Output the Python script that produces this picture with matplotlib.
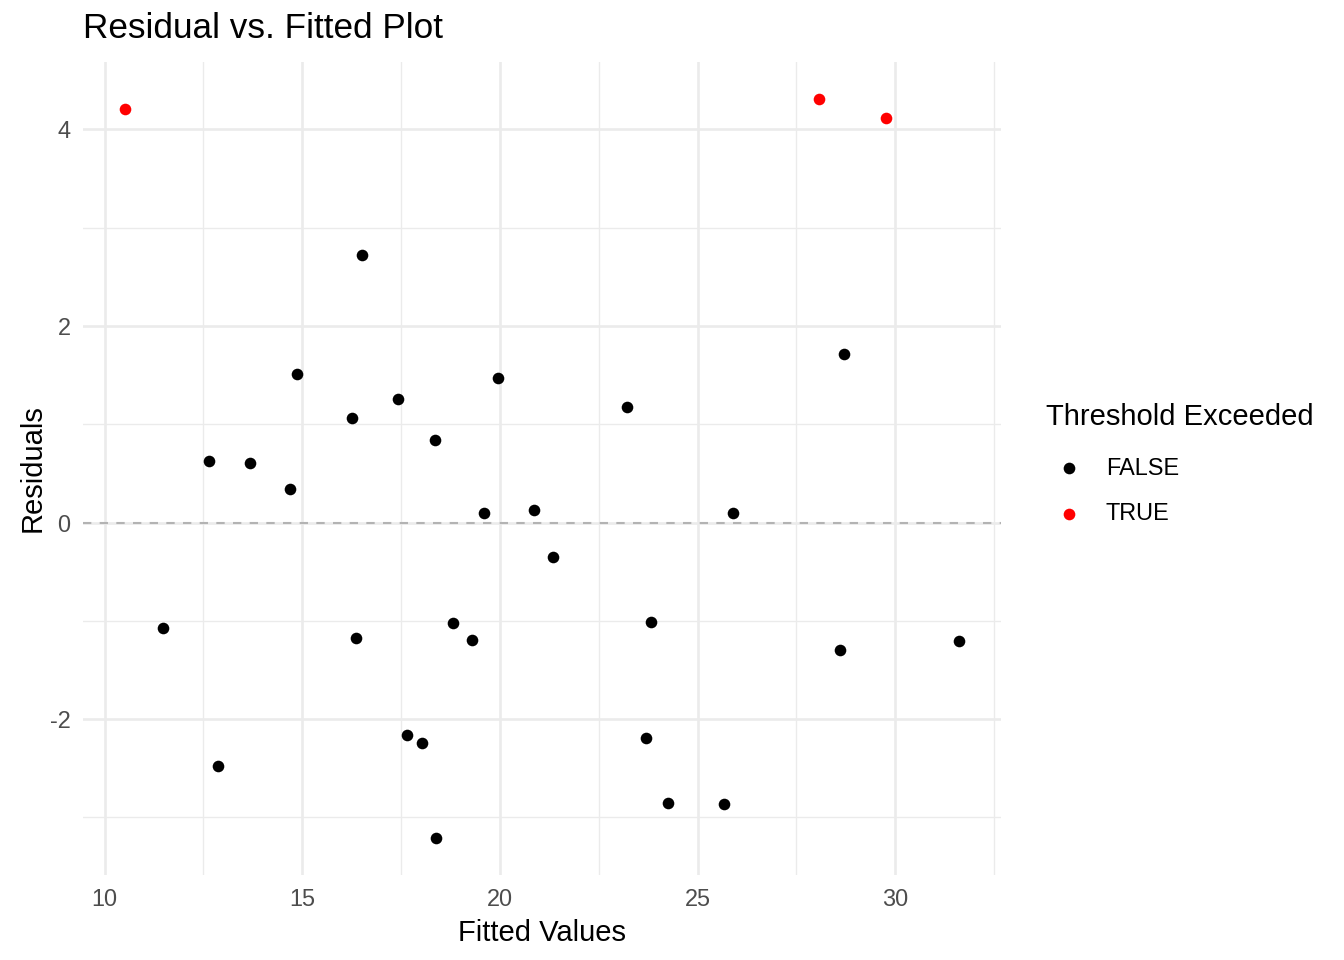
import matplotlib
matplotlib.use("Agg")
import matplotlib.pyplot as plt
from matplotlib.lines import Line2D
import numpy as np

plt.rcParams['font.family'] = ['Liberation Sans', 'DejaVu Sans']
plt.rcParams['axes.unicode_minus'] = False

fitted = [10.51, 28.08, 29.77,
          11.47, 12.65, 12.86, 13.69, 14.68, 14.88, 16.25, 16.37, 16.50, 17.43,
          17.66, 18.04, 18.37, 18.39, 18.82, 19.30, 19.61, 19.94, 20.87, 21.35,
          23.22, 23.70, 23.81, 24.26, 25.68, 25.90, 28.61, 28.71, 31.62]
residuals = [4.21, 4.31, 4.12,
             -1.07, 0.63, -2.48, 0.61, 0.34, 1.51, 1.06, -1.17, 2.72, 1.26,
             -2.16, -2.24, 0.84, -3.21, -1.02, -1.19, 0.10, 1.47, 0.13, -0.35,
             1.18, -2.19, -1.01, -2.85, -2.86, 0.10, -1.30, 1.71, -1.21]
threshold = 4.0
exceeded = [abs(r) > threshold for r in residuals]

x_ticks = [10, 15, 20, 25, 30]
y_ticks = [-2, 0, 2, 4]

W, H = 1344, 960
fig = plt.figure(figsize=(W / 100, H / 100), dpi=100)
ax = fig.add_axes([83 / W, 1 - 875 / H, (1001 - 83) / W, (875 - 62) / H])

fx = np.array(fitted)
ry = np.array(residuals)
ex = np.array(exceeded)

xr = fx.max() - fx.min()
yr = ry.max() - ry.min()
ax.set_xlim(fx.min() - 0.05 * xr, fx.max() + 0.05 * xr)
ax.set_ylim(ry.min() - 0.05 * yr, ry.max() + 0.05 * yr)

ax.set_xticks(x_ticks)
ax.set_yticks(y_ticks)
ax.set_xticks([12.5, 17.5, 22.5, 27.5, 32.5], minor=True)
ax.set_yticks([-3, -1, 1, 3], minor=True)
ax.grid(True, which='major', color='#EBEBEB', linewidth=1.9, zorder=0)
ax.grid(True, which='minor', color='#EBEBEB', linewidth=0.95, zorder=0)
ax.set_axisbelow(True)
for s in ax.spines.values():
    s.set_visible(False)
ax.tick_params(which='both', length=0)
ax.tick_params(axis='both', labelsize=16.9, labelcolor='#4D4D4D')
ax.tick_params(axis='x', pad=9)
ax.tick_params(axis='y', pad=9)

ax.axhline(0, color='#B3B3B3', linestyle=(0, (4, 4)), linewidth=1.5, zorder=1)

ax.scatter(fx[~ex], ry[~ex], s=70, color='black', linewidths=0, zorder=3)
ax.scatter(fx[ex], ry[ex], s=70, color='#FF0000', linewidths=0, zorder=3)

ax.set_xlabel('Fitted Values', fontsize=21, labelpad=6)
ax.set_ylabel('Residuals', fontsize=21, labelpad=2)
fig.text(83 / W, 1 - 29 / H, 'Residual vs. Fitted Plot', fontsize=25.3,
         ha='left', va='center')

# legend
fig.text(1046 / W, 1 - 417 / H, 'Threshold Exceeded', fontsize=21,
         ha='left', va='center')
lx = 1069 / W
for yy, lab, col in [(468, 'FALSE', 'black'), (514, 'TRUE', '#FF0000')]:
    fig.add_artist(Line2D([lx], [1 - yy / H], marker='o', markersize=8.4,
                          markerfacecolor=col, markeredgewidth=0,
                          linestyle='none', transform=fig.transFigure))
    fig.text(1106 / W, 1 - yy / H, lab, fontsize=16.9, ha='left', va='center')

fig.savefig('out.png', dpi=100)
